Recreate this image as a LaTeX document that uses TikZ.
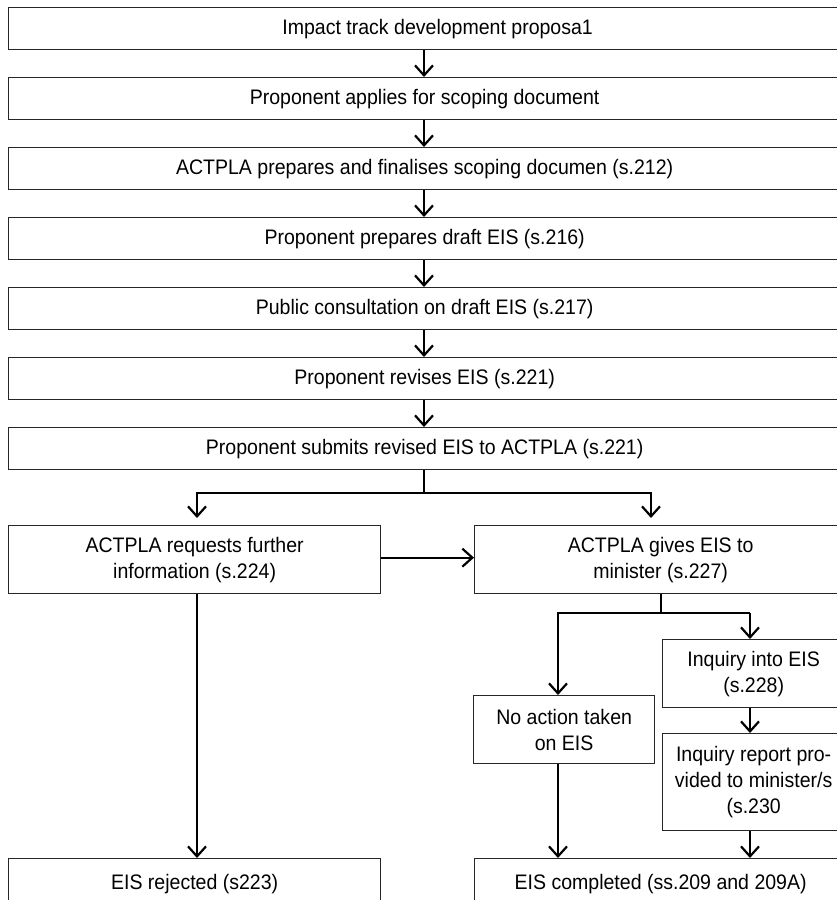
\documentclass[tikz,border=0pt]{standalone}
\usepackage{fontspec}
\setmainfont{Liberation Sans}[FakeStretch=0.93]
\usetikzlibrary{arrows.meta}
\begin{document}
\begin{tikzpicture}[x=1pt,y=-1pt,
  box/.style={draw=black!85, line width=1.3pt, inner sep=0pt, align=center,
    font=\fontsize{21}{26}\selectfont, anchor=north west},
  wide/.style={box, minimum width=832pt, minimum height=42pt},
  conn/.style={line width=2.2pt, -{Straight Barb[length=10pt,width=18pt,line width=2.2pt]}},
  trunk/.style={line width=2.6pt}]
\useasboundingbox (0,0) rectangle (837,900);
\clip (0,0) rectangle (837,900);
\fill[white] (0,0) rectangle (837,900);
% main column
\node[wide] (b1) at (8,7) {\hspace*{26pt}Impact track development proposa1};
\node[wide] (b2) at (8,77) {Proponent applies for scoping document};
\node[wide] (b3) at (8,147) {ACTPLA prepares and finalises scoping documen (s.212)};
\node[wide] (b4) at (8,217) {Proponent prepares draft EIS (s.216)};
\node[wide] (b5) at (8,287) {Public consultation on draft EIS (s.217)};
\node[wide] (b6) at (8,357) {Proponent revises EIS (s.221)};
\node[wide] (b7) at (8,427) {Proponent submits revised EIS to ACTPLA (s.221)};
% second level
\node[box, minimum width=372pt, minimum height=68pt] (req) at (8,525) {ACTPLA requests further\\information (s.224)};
\node[box, minimum width=372pt, minimum height=68pt] (giv) at (474,525) {ACTPLA gives EIS to\\minister (s.227)};
% third level
\node[box, minimum width=181pt, minimum height=68pt] (noact) at (473,695) {No action taken\\on EIS};
\node[box, minimum width=182pt, minimum height=68pt] (inq) at (662,639) {Inquiry into EIS\\(s.228)};
\node[box, minimum width=182pt, minimum height=97pt] (rep) at (662,733) {Inquiry report pro-\\vided to minister/s\\(s.230};
% bottom
\node[box, minimum width=372pt, minimum height=50pt] (rej) at (8,858) {EIS rejected (s223)};
\node[box, minimum width=372pt, minimum height=50pt] (comp) at (474,858) {EIS completed (ss.209 and 209A)};
% main column arrows
\coordinate (mx) at (424,0);
\foreach \a/\b in {b1/b2,b2/b3,b3/b4,b4/b5,b5/b6,b6/b7}
  \draw[conn] (\a.south -| mx) -- (\b.north -| mx);
% first branch
\coordinate (j1) at (424,493);
\coordinate (j1l) at (197,493);
\coordinate (j1r) at (651,493);
\draw[trunk] (b7.south -| j1) -- (j1);
\draw[trunk] ([xshift=-1.3pt]j1l) -- ([xshift=1.3pt]j1r);
\draw[conn, shorten >=7pt] (j1l) -- (req.north -| j1l);
\draw[conn, shorten >=7pt] (j1r) -- (giv.north -| j1r);
\draw[conn] ([yshift=2pt]req.east) -- ([yshift=2pt]giv.west);
\draw[conn] (req.south -| j1l) -- (rej.north -| j1l);
% second branch
\coordinate (j2) at (661,613);
\coordinate (j2l) at (558,613);
\coordinate (j2r) at (750,613);
\draw[trunk] (giv.south -| j2) -- (j2);
\draw[trunk] ([xshift=-1.3pt]j2l) -- (j2r);
\draw[conn] (j2l) -- (noact.north -| j2l);
\draw[conn] (j2r) -- (inq.north -| j2r);
\draw[conn] (inq.south -| j2r) -- (rep.north -| j2r);
\draw[conn] (rep.south -| j2r) -- (comp.north -| j2r);
\draw[conn] (noact.south -| j2l) -- (comp.north -| j2l);
\end{tikzpicture}
\end{document}
